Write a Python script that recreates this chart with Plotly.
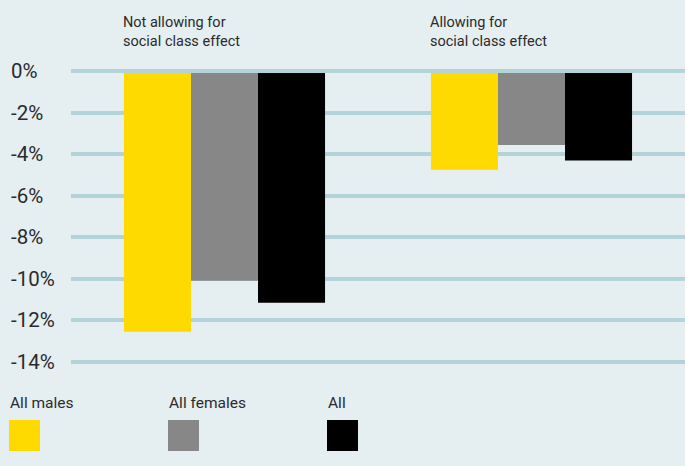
import plotly.graph_objects as go

# Data
groups = ["Not allowing for<br>social class effect", "Allowing for<br>social class effect"]
series_names = ["All males", "All females", "All"]
males = [-12.55, -4.75]
females = [-10.1, -3.55]
all_people = [-11.15, -4.3]
series_values = [males, females, all_people]
y_ticks = [0, -2, -4, -6, -8, -10, -12, -14]
y_tick_labels = [f"{v}%" for v in y_ticks]

colors = ["#FFDA00", "#878787", "#000000"]
bg = "#E5EEF1"
grid = "#B4D3D9"
text_col = "#2B2B2B"
font_family = "Roboto, DejaVu Sans, sans-serif"

W, H = 685, 466
ML, MR, MT, MB = 71, 0, 66, 99
PW, PH = W - ML - MR, H - MT - MB
BARGAP = 0.345


def px_x(px):
    return (px - ML) / PW


def px_y(py):
    return 1 - (py - MT) / PH


fig = go.Figure()
xs = list(range(len(groups)))
for name, vals, col in zip(series_names, series_values, colors):
    fig.add_trace(go.Bar(x=xs, y=vals, name=name, marker=dict(color=col, line=dict(width=0)),
                         showlegend=False, hoverinfo="skip"))

annotations = []
# y tick labels, left aligned
for v, lab in zip(y_ticks, y_tick_labels):
    annotations.append(dict(x=px_x(9), xref="paper", y=v, yref="y", text=lab, showarrow=False,
                            xanchor="left", yanchor="middle",
                            font=dict(size=20.5, color=text_col, family=font_family)))

# group headings above each cluster of bars
for i, g in enumerate(groups):
    annotations.append(dict(x=i - (1 - BARGAP) / 2, xref="x", y=px_y(52), yref="paper", text=g,
                            showarrow=False, xanchor="left", yanchor="bottom", align="left",
                            xshift=-3,
                            font=dict(size=14.5, color=text_col, family=font_family)))

shapes = []
# zero line drawn above bars
shapes.append(dict(type="line", xref="paper", x0=0, x1=1, yref="y", y0=0, y1=0,
                   line=dict(color=grid, width=3.5), layer="above"))

# legend: label above a square swatch
for k, (name, col) in enumerate(zip(series_names, colors)):
    left = 9 + k * 159
    annotations.append(dict(x=px_x(left - 1), xref="paper", y=px_y(414), yref="paper", text=name,
                            showarrow=False, xanchor="left", yanchor="bottom",
                            font=dict(size=15.5, color=text_col, family=font_family)))
    shapes.append(dict(type="rect", xref="paper", yref="paper",
                       x0=px_x(left), x1=px_x(left + 31), y0=px_y(451), y1=px_y(420),
                       fillcolor=col, line=dict(width=0)))

fig.update_layout(
    width=W, height=H,
    margin=dict(l=ML, r=MR, t=MT, b=MB, pad=0),
    paper_bgcolor=bg, plot_bgcolor=bg,
    barmode="group", bargap=BARGAP, bargroupgap=0,
    annotations=annotations, shapes=shapes,
    font=dict(family=font_family, color=text_col),
    xaxis=dict(range=[-0.5, 1.5], showticklabels=False, showgrid=False, zeroline=False,
               showline=False, ticks=""),
    yaxis=dict(range=[-14.25, 0.25], tickvals=y_ticks, showticklabels=False, showgrid=True,
               gridcolor=grid, gridwidth=3.5, zeroline=False, showline=False, ticks=""),
)

fig.write_html("out.html")
